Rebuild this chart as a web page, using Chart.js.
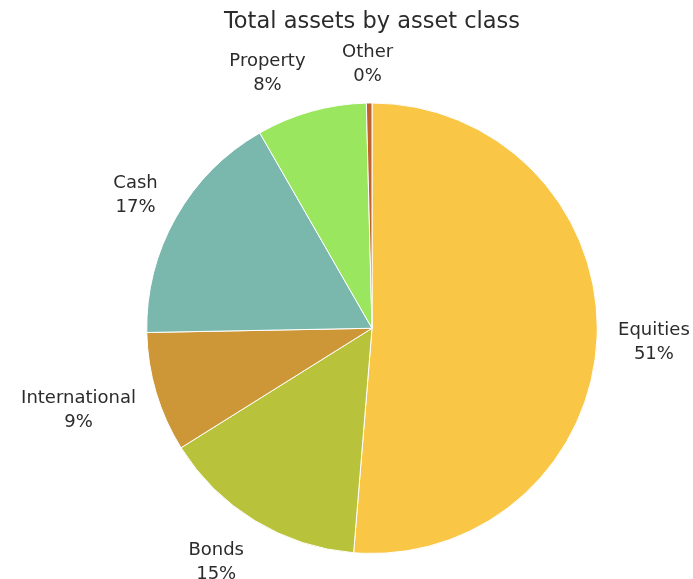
<!DOCTYPE html>
<html>
<head>
  <title>Total assets by asset class</title>
  <script src="https://cdn.jsdelivr.net/npm/chart.js"></script>
  <style>
    body { margin: 0; background: #fff; }
    #wrap { width: 693px; height: 579px; }
  </style>
</head>
<body>
  <div id="wrap"><canvas id="assetChart" width="693" height="579"></canvas></div>

  <script>
    const assetClasses = ['Equities', 'Bonds', 'International', 'Cash', 'Property', 'Other'];
    const shares = [51.3, 14.8, 8.6, 17.0, 7.9, 0.4];
    const sliceColors = ['#F9C646', '#B8C23A', '#CD9636', '#7AB8AD', '#9AE65E', '#C0622B'];

    const FONT = '"DejaVu Sans", sans-serif';
    const TEXT_COLOR = '#2b2b2b';

    const clamp = (v) => Math.max(-1, Math.min(1, v));

    // name + percentage placed just outside each slice
    const outsideLabels = {
      id: 'outsideLabels',
      afterDatasetsDraw(chart) {
        const ctx = chart.ctx;
        const meta = chart.getDatasetMeta(0);
        const data = chart.data.datasets[0].data;
        const total = data.reduce((a, b) => a + b, 0);
        ctx.save();
        ctx.font = '18px ' + FONT;
        ctx.fillStyle = TEXT_COLOR;
        ctx.textAlign = 'center';
        ctx.textBaseline = 'middle';
        const lineH = 24;
        meta.data.forEach((arc, i) => {
          const mid = (arc.startAngle + arc.endAngle) / 2;
          const dx = Math.cos(mid), dy = Math.sin(mid);
          const name = chart.data.labels[i];
          const pct = Math.round(data[i] / total * 100) + '%';
          const halfW = Math.max(ctx.measureText(name).width, ctx.measureText(pct).width) / 2;
          const halfH = lineH * 0.85;
          const r = arc.outerRadius + 21;
          // push the text box away from the pie, mostly sideways
          const cx = arc.x + dx * r + clamp(dx * 4) * halfW;
          const cy = arc.y + dy * r + clamp(dy * 1.5) * halfH + 3;
          ctx.fillText(name, cx, cy - lineH / 2);
          ctx.fillText(pct, cx, cy + lineH / 2);
        });
        ctx.restore();
      }
    };

    new Chart(document.getElementById('assetChart'), {
      type: 'pie',
      data: {
        labels: assetClasses,
        datasets: [{
          data: shares,
          backgroundColor: sliceColors,
          borderColor: '#ffffff',
          borderWidth: 1
        }]
      },
      options: {
        responsive: false,
        animation: false,
        layout: { padding: { top: 0, bottom: 25, left: 51, right: 0 } },
        plugins: {
          legend: { display: false },
          tooltip: { enabled: false },
          title: {
            display: true,
            text: 'Total assets by asset class',
            color: TEXT_COLOR,
            font: { family: FONT, size: 22.5, weight: 'normal' },
            padding: { top: 9, bottom: 66.5 }
          }
        }
      },
      plugins: [outsideLabels]
    });
  </script>
</body>
</html>
